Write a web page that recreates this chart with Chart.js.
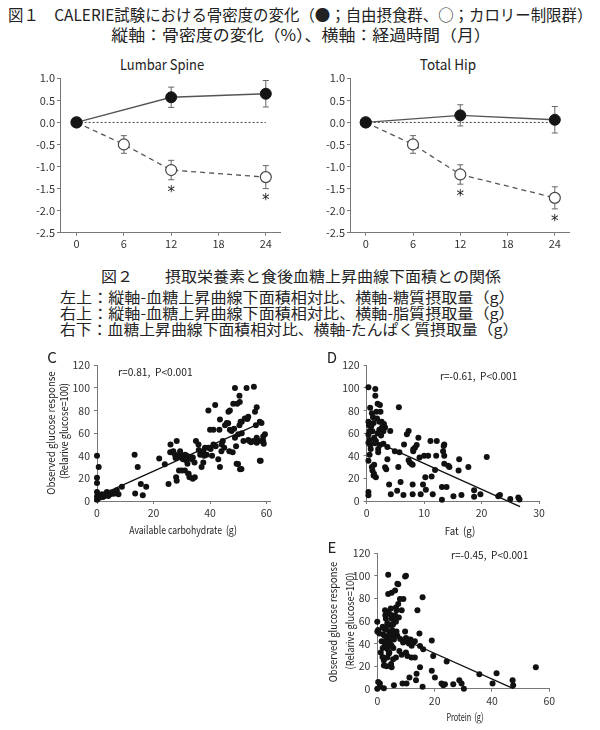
<!DOCTYPE html>
<html><head><meta charset="utf-8">
<script src="https://cdn.jsdelivr.net/npm/chart.js@4.4.1/dist/chart.umd.min.js"></script>
<style>
html,body{margin:0;padding:0;background:#fff;}
body{width:600px;height:730px;position:relative;overflow:hidden;font-family:"Noto Sans CJK JP","Noto Sans",sans-serif;color:#222;}
.t{position:absolute;white-space:nowrap;line-height:1;}
.box{position:absolute;}
canvas{display:block;}
</style></head><body>

<div class="t" data-a="l" data-w="584" style="left:8px;top:15px;font-size:15.5px;">図１　CALERIE試験における骨密度の変化（●；自由摂食群、○；カロリー制限群）</div>
<div class="t" data-a="c" data-w="380" style="left:301px;top:35px;font-size:15.5px;">縦軸：骨密度の変化（%）、横軸：経過時間（月）</div>

<div class="t" data-a="c" data-w="84" style="left:162px;top:64px;font-size:14.5px;">Lumbar Spine</div>
<div class="t" data-a="c" data-w="56" style="left:448px;top:64px;font-size:14.5px;">Total Hip</div>

<div class="box" style="left:0px;top:68px;"><canvas id="spine" width="290" height="195"></canvas></div>
<div class="box" style="left:290px;top:68px;"><canvas id="hip" width="290" height="195"></canvas></div>

<div class="t" data-a="c" data-w="400" style="left:301px;top:275px;font-size:15px;">図２　　摂取栄養素と食後血糖上昇曲線下面積との関係</div>
<div class="t" data-a="l" data-w="455" style="left:60px;top:297px;font-size:14.5px;">左上：縦軸-血糖上昇曲線下面積相対比、横軸-糖質摂取量（g）</div>
<div class="t" data-a="l" data-w="455" style="left:60px;top:313px;font-size:14.5px;">右上：縦軸-血糖上昇曲線下面積相対比、横軸-脂質摂取量（g）</div>
<div class="t" data-a="l" data-w="458" style="left:60px;top:329px;font-size:14.5px;">右下：血糖上昇曲線下面積相対比、横軸-たんぱく質摂取量（g）</div>

<div class="box" style="left:0px;top:355px;"><canvas id="carb" width="290" height="175"></canvas></div>
<div class="box" style="left:300px;top:355px;"><canvas id="fat" width="260" height="175"></canvas></div>
<div class="box" style="left:300px;top:543px;"><canvas id="prot" width="260" height="175"></canvas></div>

<div class="t" data-a="c" style="left:52px;top:356px;font-size:15px;">C</div>
<div class="t" data-a="c" style="left:332px;top:356px;font-size:15px;">D</div>
<div class="t" data-a="c" style="left:332px;top:546px;font-size:15px;">E</div>

<div class="t" data-a="l" data-w="75" style="left:118px;top:372px;font-size:10.5px;">r=0.81,&nbsp; P&lt;0.001</div>
<div class="t" data-a="l" data-w="77" style="left:440px;top:376px;font-size:10.5px;">r=-0.61,&nbsp; P&lt;0.001</div>
<div class="t" data-a="l" data-w="77" style="left:451px;top:555px;font-size:10.5px;">r=-0.45,&nbsp; P&lt;0.001</div>

<div class="t" data-a="c" data-w="108" style="left:183px;top:529px;font-size:11px;">Available carbohydrate&nbsp; (g)</div>
<div class="t" data-a="c" data-w="31" style="left:460px;top:530px;font-size:11px;">Fat&nbsp; (g)</div>
<div class="t" data-a="c" data-w="37" style="left:465px;top:716px;font-size:11px;">Protein&nbsp; (g)</div>

<div class="t" data-a="v" data-w="123" style="left:50px;top:433px;font-size:11px;">Observed glucose response</div>
<div class="t" data-a="v" data-w="96" style="left:63px;top:431px;font-size:11px;">(Relarive glucose=100)</div>
<div class="t" data-a="v" data-w="120" style="left:332px;top:622px;font-size:11px;">Observed glucose response</div>
<div class="t" data-a="v" data-w="97" style="left:349px;top:621px;font-size:11px;">(Relarive glucose=100)</div>

<script>
// ---------- Figure 1 data ----------
const monthTicks = [0, 6, 12, 18, 24];
const bmdTicks = [-2.5, -2.0, -1.5, -1.0, -0.5, 0.0, 0.5, 1.0];
const adLibMonths = [0, 12, 24];
const crMonths = [0, 6, 12, 24];
const sigMonths = [12, 24];

const spineAdLib = [0, 0.57, 0.65];
const spineAdLibErr = [0, 0.23, 0.30];
const spineCR = [0, -0.50, -1.08, -1.24];
const spineCRErr = [0, 0.20, 0.22, 0.26];

const hipAdLib = [0, 0.16, 0.06];
const hipAdLibErr = [0, 0.24, 0.30];
const hipCR = [0, -0.50, -1.18, -1.71];
const hipCRErr = [0, 0.20, 0.22, 0.25];

// ---------- Figure 2 data ----------
const glucoseTicks = [0, 20, 40, 60, 80, 100, 120];
const carbTicks = [0, 20, 40, 60];
const fatTicks = [0, 10, 20, 30];
const protTicks = [0, 20, 40, 60];

const carbX = [0,0.6,0,0,0,0,0,0.6,1.2,1.8,3,3.5,4.7,5.9,7,7.6,8.8,2.4,
  13.3,14.4,13.5,15.5,16.2,17.4,22,24,25.3,25.9,26,
  28.2,28,28.2,27,29.4,29,30,30.4,30.8,31.8,32,32.4,33.2,33.9,33.9,32.7,29.4,31.2,
  35,35.9,36.5,37,37.6,37.9,38.2,39.4,40,40.7,41.2,41.8,41.2,42,42.9,43.5,43.3,43.5,44.1,44.5,
  45.9,46.5,46.8,47,47.6,48,48.2,48.5,48.8,49.2,49.4,49.6,50,50.4,50.6,50.8,51.2,51.8,
  52.9,53.2,53.5,53.9,55.5,55.9,56.2,56.5,56.5,57,57.6,57.9,58.2,58.8,59.4,59,
  26.5,27.6,28.5,33.5,34.5,38.8,39.4,45.3,47,48.8,50.4,51.2,55.3,56.5,58.2,
  31.1,32.3,34.6,37.6,49.9,51.1,57.6,58.8,50.5,52.3,53.5,46.4,
  0.4,1,1.5,2,2.8,4,5,6.5,27.8,29,30,31.5,32.8,36,40.2,44,45,54.5];
const carbY = [40,30,20.5,16,8,4,1,5,4.5,6,6,8,6,6.5,9.5,6,12.5,4,
  41,30,6.6,15,5,12.5,37.5,32.5,15,43,50,
  53,21,18,44,44,27,27,37,40,40,33,24,39,38.5,19.7,21,41,41,
  53,50,41,30,44,40,47,80,63,40,63,85,50,48.5,37,30,63,72,50,53,
  69,79,44,80,62,43,86,64,100,48.5,33,86,59,93,28,70,60,53,
  100,72.6,54,53,101,79,67,83,56,53,70,35.6,69,53,59,50.6,
  43,41,40,37,34,41,47,67,63,56,67,70,53,51.5,53,
  27,24,21,34,32.7,28.4,35.6,57,87.6,73,74.6,68.8,
  2.5,3,5,3.5,5,4.5,7.5,8,38,39,38.5,36,38,45,46,44,47,52];
const carbFitX = [0, 57];
const carbFitY = [3.8, 68];

const fatX = [0.3,0.6,0.3,0.4,0.3,0.5,0.3,0.6,0.5,0.3,0.3,0.3,
  0.9,1.2,1,1.3,0.9,1,1.3,1.6,1.5,1.5,1.9,2.3,2.4,2.6,2.8,2.9,3.2,2.2,1.9,1.6,2,2,2.3,2.9,1.7,2.2,
  3.4,3.6,3.6,4.1,3.9,4.2,4.9,5.3,5.5,5.6,5.7,5.9,6.4,6.5,
  7,7.3,7.3,7.5,8,8,8,8.1,8.4,8.7,9,9.2,9.4,9.8,10,10.2,10.3,
  10.7,11.1,11.3,11.5,11.9,12.1,12.2,13.1,13.1,13.3,13.5,13.5,13.5,13.9,14.4,15.1,16.1,16,16.5,
  17.7,18.7,18.7,19.8,20.9,22.9,23.2,25,26.4,26.6,
  1.27,1.2,2.6,13.4,14.2,7.8,8.1,3.2,
  0.8,1.1,0.7,1.8,2.5,3,0.5,1.4];
const fatY = [100.6,82.4,70,67,58.7,54,51.5,49.5,41,35.6,8,5,
  77.5,69,61.6,56,30,27,32,21,99,93,86,85,79,70,66,61.6,65,63,60,53,46,43,49.5,50.6,79,70,
  28,37,47.7,62,14.7,6,44,9,30,83,43,16.8,5.2,50,
  59,62,36,34,32,14.7,6,44,47,49.5,56,38.5,6,14.7,40,21,10,
  40,53,21.7,6,27.5,40,53,1,12.4,44,50,40,33,12.4,30,4.3,37,27,5.2,
  30,9.5,3.8,6,39,4.3,5.2,1.7,3.2,1.4,
  24,22.5,64.5,48.6,31.2,32.7,45.7,29.8,
  66,74,46,73,58,68,62,51];
const fatFitX = [0, 26.7];
const fatFitY = [56, -5];

const protX = [0,0.3,0,0.3,0.9,0,0.9,
  0.7,1.5,1.9,2.3,2.3,2.7,3,3,3.3,3.5,3.5,3.8,3.8,3.8,4.2,4.2,4.4,4.4,4.7,5,5,5,5.3,5.6,5.8,
  6.2,6.2,6.5,6.7,6.5,7.3,7.3,7.7,7.9,8.5,8.8,9.1,9.3,9.7,10,10.2,10,10.8,10.5,
  11.2,11.6,11.9,13.1,13.1,13.5,13.7,14,14.7,14.9,14.9,15.8,15.8,16,19,19,19.5,20.1,
  22.4,23,23.6,24.2,26.5,28.6,29.4,30.2,35.6,40.2,41.6,47.2,47.4,55.3,
  2.7,3.8,2.1,5,5.8,6.7,7,9.7,
  1.9,2.5,3.2,3.6,4,4.6,5.2,5.5,6,3.5,2.8,4.5,5.8,6.5,7.5,2.3,3.3,8,9,11,12,12.5,1.2,1.8,2.5,8.5,10,4.8,5.5,7];
const protY = [59.4,52,50.8,6,4.6,0,1.7,
  49,42,36,20.5,0.3,69.5,62,53.6,45,38,27.7,68,101,84,50.8,32,42,56.5,71,85,62,19,46.4,36,3,
  87,65,59.4,50.8,27.7,92.6,75,33.5,79.6,69.5,4.6,79.6,42,50.8,100,4.6,45,43.6,29,
  10,43.6,27.7,42,27.7,7.5,13.3,69.5,49,37.8,19,81,1.7,35,16,42.7,29,10,
  4.6,3,4,24,4,7.5,4.6,0,12.7,4.6,13.8,7.5,3,19,
  39,46.4,48,38,43.6,69.5,93,99.5,
  55,47,43,35,31,39,52,57,48,58,65,66,61,72,63,25,20,44,41,40,38,41,32,28,53,30,32,22,26,47];
const protFitX = [0, 47.5];
const protFitY = [54, 0];

// ---------- text fitting ----------
document.querySelectorAll('.t').forEach(el => {
  const a = el.dataset.a, w = parseFloat(el.dataset.w);
  const s = w ? (w / el.offsetWidth) : 1;
  if (a === 'l') { el.style.transformOrigin = '0 50%'; el.style.transform = `translate(0,-50%) scaleX(${s})`; }
  else if (a === 'v') { el.style.transform = `translate(-50%,-50%) rotate(-90deg) scaleX(${s})`; }
  else { el.style.transform = `translate(-50%,-50%) scaleX(${s})`; }
});

// ---------- rendering ----------
const FF = '"Noto Sans CJK JP", "Noto Sans", sans-serif';
Chart.defaults.font.family = FF;
Chart.defaults.animation = false;

function makeAxis(o) {
  return {
    type: 'linear',
    min: o.min, max: o.max,
    afterBuildTicks: s => { s.ticks = o.ticks.map(v => ({ value: v })); },
    afterFit: s => { if (o.w !== undefined) s.width = o.w; if (o.h !== undefined) s.height = o.h; },
    grid: { display: true, drawOnChartArea: false, drawTicks: true, tickLength: o.tl || 3, color: '#777', lineWidth: 1 },
    border: { display: true, color: '#777', width: 1 },
    ticks: { font: { size: o.fs || 11, family: FF }, color: '#333', padding: o.pad || 2,
      callback: o.fmt || (v => String(v)), autoSkip: false, maxRotation: 0 }
  };
}

const bonePlugin = {
  id: 'bone',
  beforeDatasetsDraw(chart) {
    const { ctx } = chart; const x = chart.scales.x, y = chart.scales.y;
    ctx.save();
    ctx.strokeStyle = '#444'; ctx.lineWidth = 1; ctx.setLineDash([2, 2]);
    ctx.beginPath();
    ctx.moveTo(x.getPixelForValue(monthTicks[0]), y.getPixelForValue(0));
    ctx.lineTo(x.getPixelForValue(monthTicks[monthTicks.length - 1]), y.getPixelForValue(0));
    ctx.stroke(); ctx.setLineDash([]);
    ctx.strokeStyle = '#666'; ctx.lineWidth = 1;
    chart.data.datasets.forEach(ds => {
      if (!ds.err) return;
      ds.data.forEach((p, i) => {
        const e = ds.err[i]; if (!e) return;
        const px = x.getPixelForValue(p.x);
        const t = y.getPixelForValue(p.y + e), b = y.getPixelForValue(p.y - e);
        ctx.beginPath();
        ctx.moveTo(px, t); ctx.lineTo(px, b);
        ctx.moveTo(px - 3, t); ctx.lineTo(px + 3, t);
        ctx.moveTo(px - 3, b); ctx.lineTo(px + 3, b);
        ctx.stroke();
      });
    });
    ctx.restore();
  },
  afterDatasetsDraw(chart) {
    const { ctx } = chart; const x = chart.scales.x, y = chart.scales.y;
    ctx.save();
    ctx.fillStyle = '#222'; ctx.font = '15px "DejaVu Sans"'; ctx.textAlign = 'center'; ctx.textBaseline = 'middle';
    chart.data.datasets.forEach(ds => {
      if (!ds.sig) return;
      ds.data.forEach((p, i) => {
        if (!ds.sig.includes(p.x)) return;
        const b = y.getPixelForValue(p.y - ds.err[i]);
        ctx.fillText('*', x.getPixelForValue(p.x), b + 13);
      });
    });
    ctx.restore();
  }
};

function boneChart(id, ad, adErr, cr, crErr, xmin, xmax, padR) {
  new Chart(document.getElementById(id), {
    type: 'scatter',
    data: { datasets: [
      { data: adLibMonths.map((m, i) => ({ x: m, y: ad[i] })), err: adErr, showLine: true,
        borderColor: '#555', borderWidth: 1.3, pointRadius: 5.5, pointBackgroundColor: '#151515',
        pointBorderColor: '#151515', pointBorderWidth: 1, clip: false },
      { data: crMonths.map((m, i) => ({ x: m, y: cr[i] })), err: crErr, sig: sigMonths, showLine: true,
        borderColor: '#555', borderWidth: 1.3, borderDash: [5, 4], pointRadius: 5.5, pointBackgroundColor: '#fff',
        pointBorderColor: '#444', pointBorderWidth: 1.2, clip: false }
    ]},
    options: {
      responsive: false, animation: false, events: [],
      layout: { padding: { left: 0, right: padR, top: 10.3, bottom: 0.3 } },
      plugins: { legend: { display: false }, tooltip: { enabled: false } },
      scales: {
        x: makeAxis({ min: xmin, max: xmax, ticks: monthTicks, h: 30, tl: 3, pad: 2 }),
        y: makeAxis({ min: -2.5, max: 1.0, ticks: bmdTicks, w: 60, tl: 3, pad: 2, fmt: v => v.toFixed(1) })
      }
    },
    plugins: [bonePlugin]
  });
}

boneChart('spine', spineAdLib, spineAdLibErr, spineCR, spineCRErr, -2.1, 25.8, 10);
boneChart('hip', hipAdLib, hipAdLibErr, hipCR, hipCRErr, -2.0, 25.8, 11);

function scatterChart(id, xs, ys, fx, fy, xmax, xticks, yW, padR, padT, xH) {
  new Chart(document.getElementById(id), {
    type: 'scatter',
    data: { datasets: [
      { data: fx.map((v, i) => ({ x: v, y: fy[i] })), showLine: true, borderColor: '#111', borderWidth: 1.3,
        pointRadius: 0, clip: false },
      { data: xs.map((v, i) => ({ x: v, y: ys[i] })), pointRadius: 3, pointBackgroundColor: '#111',
        pointBorderColor: '#111', pointBorderWidth: 0, clip: false }
    ]},
    options: {
      responsive: false, animation: false, events: [],
      layout: { padding: { left: 0, right: padR, top: padT, bottom: 0 } },
      plugins: { legend: { display: false }, tooltip: { enabled: false } },
      scales: {
        x: makeAxis({ min: 0, max: xmax, ticks: xticks, h: xH, tl: 3, pad: 3, fs: 10.5 }),
        y: makeAxis({ min: 0, max: 120, ticks: glucoseTicks, w: yW, tl: 3, pad: 4, fs: 10.5 })
      }
    }
  });
}

scatterChart('carb', carbX, carbY, carbFitX, carbFitY, 61.2, carbTicks, 97, 20, 7.7, 29);
scatterChart('fat', fatX, fatY, fatFitX, fatFitY, 30, fatTicks, 66.7, 21, 7.7, 29);
scatterChart('prot', protX, protY, protFitX, protFitY, 60, protTicks, 77.3, 10.7, 7, 29.3);
</script>
</body></html>
